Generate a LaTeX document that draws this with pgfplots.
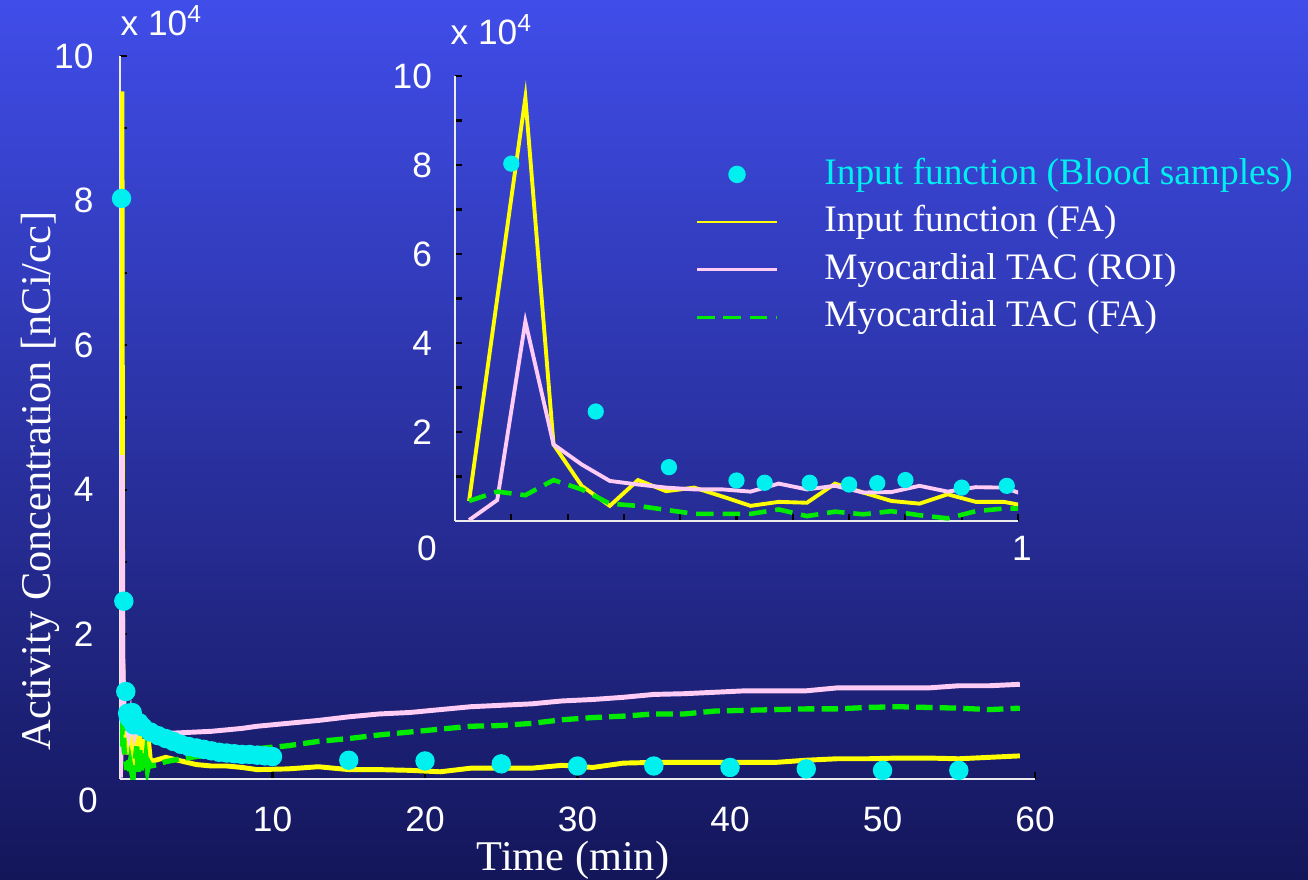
\documentclass[border=0pt]{standalone}
\usepackage{pgfplots}
\pgfplotsset{compat=1.18}
\usepackage{pgfplotstable}
\usepackage{fontspec}
\setmainfont{Liberation Serif}
\newfontfamily\helv{Liberation Sans}

\definecolor{bgtop}{RGB}{64,77,233}
\definecolor{bgmid}{RGB}{44,56,180}
\definecolor{bgbot}{RGB}{20,22,90}
\definecolor{dotc}{RGB}{0,240,240}
\definecolor{yel}{RGB}{255,255,0}
\definecolor{pnk}{RGB}{255,204,245}
\definecolor{grn}{RGB}{0,235,0}

% Input function (Blood samples)
\pgfplotstableread{
t y
0.10 8.03
0.25 2.46
0.38 1.21
0.50 0.91
0.55 0.86
0.63 0.86
0.70 0.82
0.75 0.85
0.80 0.92
0.90 0.75
0.98 0.79
1.25 0.78
1.5 0.72
2.0 0.65
2.5 0.60
3.0 0.56
3.5 0.52
4.0 0.48
4.5 0.45
5.0 0.43
5.5 0.41
6.0 0.39
6.5 0.37
7.0 0.36
7.5 0.35
8.0 0.34
8.5 0.34
9.0 0.33
9.5 0.32
10.0 0.31
15 0.26
20 0.25
25 0.21
30 0.18
35 0.18
40 0.16
45 0.14
50 0.12
55 0.12
}\dotTab

% Input function (FA)
\pgfplotstableread{
t y
0.025 0.45
0.075 5.00
0.125 9.51
0.175 1.72
0.225 0.79
0.275 0.34
0.325 0.92
0.375 0.67
0.425 0.75
0.475 0.55
0.525 0.34
0.575 0.43
0.625 0.41
0.675 0.84
0.725 0.64
0.775 0.45
0.825 0.39
0.875 0.60
0.925 0.43
0.975 0.43
1.000 0.37
1.1 0.55
1.2 0.30
1.3 0.60
1.4 0.28
1.5 0.55
1.6 0.30
1.7 0.50
1.8 0.25
1.9 0.45
2.0 0.24
2.5 0.27
3 0.30
4 0.25
5 0.20
6 0.18
7 0.18
8 0.16
9 0.13
11 0.14
13 0.17
15 0.13
17 0.13
19 0.12
21 0.10
23 0.15
25 0.15
27 0.15
29 0.19
31 0.16
33 0.22
35 0.23
37 0.23
39 0.23
41 0.23
43 0.23
45 0.26
47 0.28
49 0.28
51 0.29
53 0.29
55 0.28
57 0.30
59 0.32
}\yelTab

% Myocardial TAC (ROI)
\pgfplotstableread{
t y
0.025 0.02
0.075 0.47
0.125 4.48
0.175 1.72
0.225 1.27
0.275 0.90
0.325 0.82
0.375 0.75
0.425 0.71
0.475 0.71
0.525 0.66
0.575 0.84
0.625 0.71
0.675 0.79
0.725 0.64
0.775 0.65
0.825 0.79
0.875 0.66
0.925 0.76
0.975 0.75
1.000 0.64
1.1 0.72
1.2 0.70
1.3 0.68
1.4 0.66
1.5 0.70
1.6 0.74
1.7 0.75
1.8 0.73
1.9 0.72
2.0 0.72
2.5 0.66
3 0.63
4 0.64
5 0.65
6 0.66
7 0.68
8 0.70
9 0.73
11 0.77
13 0.81
15 0.86
17 0.90
19 0.92
21 0.96
23 1.00
25 1.02
27 1.04
29 1.08
31 1.10
33 1.13
35 1.17
37 1.18
39 1.20
41 1.22
43 1.22
45 1.22
47 1.26
49 1.26
51 1.26
53 1.26
55 1.29
57 1.29
59 1.31
}\pnkTab

% Myocardial TAC (FA)
\pgfplotstableread{
t y
0.025 0.45
0.075 0.66
0.125 0.58
0.175 0.92
0.225 0.71
0.275 0.39
0.325 0.34
0.375 0.25
0.425 0.16
0.475 0.16
0.525 0.16
0.575 0.26
0.625 0.11
0.675 0.21
0.725 0.15
0.775 0.22
0.825 0.13
0.875 0.06
0.925 0.22
0.975 0.28
1.000 0.28
1.1 0.45
1.2 0.10
1.3 0.40
1.4 0.12
1.5 0.35
1.6 0.10
1.7 0.30
1.8 0.12
1.9 0.22
2.0 0.18
2.5 0.20
3 0.24
4 0.28
5 0.31
6 0.34
7 0.37
8 0.40
9 0.42
11 0.46
13 0.52
15 0.56
17 0.61
19 0.65
21 0.69
23 0.73
25 0.74
27 0.77
29 0.82
31 0.85
33 0.87
35 0.90
37 0.90
39 0.94
41 0.95
43 0.96
45 0.97
47 0.97
49 0.99
51 1.00
53 0.99
55 0.98
57 0.96
59 0.98
}\grnTab

\pgfplotsset{
  common/.style={
    scale only axis,
    axis x line=bottom, axis y line=left,
    axis line style={-, draw=white!85!gray, line width=0.6pt},
    tick style={black, line width=0.6pt},
    tick align=inside,
    major tick length=2pt,
    enlargelimits=false,
    ymin=0, ymax=10,
    ticklabel style={font=\helv\fontsize{10}{12}\selectfont, text=white},
  }
}

\begin{document}
\begin{tikzpicture}
\path[use as bounding box] (0pt,0pt) rectangle (370.79pt,249.18pt);
\shade[top color=bgtop, middle color=bgmid, bottom color=bgbot] (0pt,0pt) rectangle (370.79pt,249.18pt);

% ---------- main axis ----------
\begin{axis}[common,
  at={(34.018pt,28.348pt)}, anchor=south west,
  width=259.4pt, height=204.96pt,
  xmin=0, xmax=60,
  xtick={10,20,...,60},
  xticklabels={10,20,30,40,50,60},
  ytick={0,1,...,10},
  yticklabels={,,2,,4,,6,,8,,10},
  yticklabel style={xshift=-4pt},
  xticklabel style={yshift=-4.5pt},
]
\addplot[only marks, mark=*, mark size=2.55pt, color=dotc] table[x=t,y=y] {\dotTab};
\addplot[yel, line width=1.4pt] table[x=t,y=y] {\yelTab};
\addplot[pnk, line width=1.4pt] table[x=t,y=y] {\pnkTab};
\addplot[grn, line width=1.5pt, dash pattern=on 4.7pt off 2pt] table[x=t,y=y] {\grnTab};
\end{axis}

% ---------- inset axis ----------
\begin{axis}[common,
  at={(128.98pt,101.49pt)}, anchor=south west,
  width=159.6pt, height=126.15pt,
  xmin=0, xmax=1,
  xtick={0.1,0.2,...,1.0},
  xticklabels={},
  ytick={0,1,...,10},
  yticklabels={,,2,,4,,6,,8,,10},
  yticklabel style={xshift=-3pt},
  legend cell align=left,
  legend image code/.code={\draw[mark repeat=2,mark phase=2, line width=0.75pt] plot coordinates {(0cm,0cm) (0.4cm,0cm) (0.8cm,0cm)};},
  legend style={draw=none, fill=none, text=white,
    font=\fontsize{10.6}{13}\selectfont,
    at={(0.426,0.822)}, anchor=north west,
    inner sep=0pt, row sep=3pt, column sep=13pt,
    nodes={inner sep=0pt, text height=8pt, text depth=2.5pt}},
]
\addplot[only marks, mark=*, mark size=2.1pt, color=dotc] table[x=t,y=y] {\dotTab};
\addlegendentry{\textcolor{dotc}{Input function (Blood samples)}}
\addplot[yel, line width=1.1pt] table[x=t,y=y] {\yelTab};
\addlegendentry{Input function (FA)}
\addplot[pnk, line width=1.1pt] table[x=t,y=y] {\pnkTab};
\addlegendentry{Myocardial TAC (ROI)}
\addplot[grn, line width=1.3pt, dash pattern=on 5pt off 2.5pt] table[x=t,y=y] {\grnTab};
\addlegendentry{Myocardial TAC (FA)}
\end{axis}

% ---------- labels ----------
\begin{scope}[x=0.28348pt,y=0.28348pt]
\node[anchor=base west, text=white, font=\helv\fontsize{10}{12}\selectfont, inner sep=0pt] at (120,844) {x 10\textsuperscript{4}};
\node[anchor=base west, text=white, font=\helv\fontsize{10}{12}\selectfont, inner sep=0pt] at (450,835) {x 10\textsuperscript{4}};
\node[text=white, font=\helv\fontsize{10}{12}\selectfont, inner sep=0pt] at (88,79) {0};
\node[text=white, font=\helv\fontsize{10}{12}\selectfont, inner sep=0pt] at (427,331) {0};
\node[text=white, font=\helv\fontsize{10}{12}\selectfont, inner sep=0pt] at (1022,331) {1};
\node[text=white, font=\fontsize{12}{14}\selectfont, inner sep=0pt, anchor=base] at (573,9) {Time (min)};
\node[text=white, font=\fontsize{12}{14}\selectfont, inner sep=0pt, rotate=90, anchor=base] at (50,398) {Activity Concentration [nCi/cc]};
\end{scope}
\end{tikzpicture}
\end{document}
